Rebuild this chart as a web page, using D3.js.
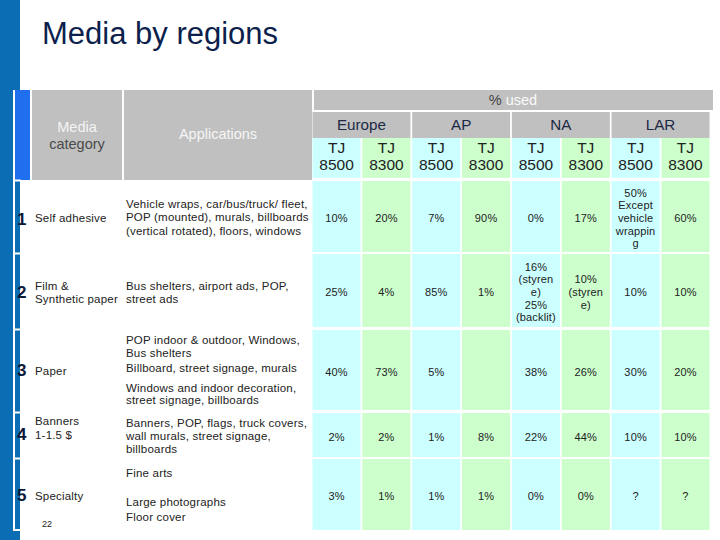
<!DOCTYPE html>
<html><head><meta charset="utf-8">
<script src="https://cdn.jsdelivr.net/npm/d3@7"></script>
<style>body{margin:0;background:#fff;}svg{display:block;font-family:"Liberation Sans",Arial,sans-serif;}</style>
</head><body><svg id="c" width="720" height="540"></svg>
<script>
// ---------- DATA ----------
const title = "Media by regions";
const usedLabel = ["% ", "used"];
const headerCategory = ["Media", "category"];
const headerApplications = "Applications";
const regions = ["Europe", "AP", "NA", "LAR"];
const models = [["TJ", "8500"], ["TJ", "8300"]];
const rowNumbers = ["1", "2", "3", "4", "5"];
const categories = [["Self adhesive"], ["Film &", "Synthetic paper"], ["Paper"], ["Banners", "1-1.5 $"], ["Specialty"]];
const applications = [
  ["Vehicle wraps, car/bus/truck/ fleet,", "POP (mounted), murals, billboards", "(vertical rotated), floors, windows"],
  ["Bus shelters, airport ads, POP,", "street ads"],
  ["POP indoor & outdoor, Windows,", "Bus shelters", "Billboard, street signage, murals", "Windows and indoor decoration,", "street signage, billboards"],
  ["Banners, POP, flags, truck covers,", "wall murals, street signage,", "billboards"],
  ["Fine arts", "Large photographs", "Floor cover"]
];
const europe = [["10%", "20%"], ["25%", "4%"], ["40%", "73%"], ["2%", "2%"], ["3%", "1%"]];
const ap = [["7%", "90%"], ["85%", "1%"], ["5%", ""], ["1%", "8%"], ["1%", "1%"]];
const na = [["0%", "17%"], [["16%", "(styren", "e)", "25%", "(backlit)"], ["10%", "(styren", "e)"]], ["38%", "26%"], ["22%", "44%"], ["0%", "0%"]];
const lar = [[["50%", "Except", "vehicle", "wrappin", "g"], "60%"], ["10%", "10%"], ["30%", "20%"], ["10%", "10%"], ["?", "?"]];
const pageNumber = "22";

// ---------- LAYOUT ----------
const svg = d3.select("#c");
const C = {gray: "#c0c0c0", cyan: "#ccffff", green: "#ccffcc", blue: "#0b6db4", bright: "#1f6fee", navy: "#0d1f4d", text: "#222"};
const regionData = [europe, ap, na, lar];

const x = d3.scaleBand().domain(d3.range(8)).range([312.5, 709.5]).paddingInner(0.035);
const rowTop = d3.scaleOrdinal().domain(d3.range(5)).range([181, 254, 330, 413, 459]);
const rowBot = d3.scaleOrdinal().domain(d3.range(5)).range([252, 327, 410, 457, 530]);
const rowMid = i => (rowTop(i) + rowBot(i)) / 2;
const appBaselines = [[207.5, 221, 234.5], [290, 303], [344, 356.5, 371.5, 391.5, 404], [426.5, 440, 452.5], [477, 506, 520.5]];
const catBaselines = [[222], [290, 303], [375], [425, 439], [500]];
const numBaselines = [225, 298, 376, 440, 501];

// left decorative strip
svg.append("rect").attr("x", 0).attr("y", 0).attr("width", 20).attr("height", 540).attr("fill", C.blue);
svg.append("path").attr("d", "M20,91 H14 V530 H20").attr("fill", "none").attr("stroke", "#fff").attr("stroke-width", 2);
svg.append("rect").attr("x", 15).attr("y", 90).attr("width", 15).attr("height", 90).attr("fill", C.bright);
svg.append("rect").attr("x", 20).attr("y", 181).attr("width", 2).attr("height", 349).attr("fill", "#fff");
rowNumbers.forEach((_, i) => {
  svg.append("rect").attr("x", 15).attr("y", rowTop(i) - 1.5).attr("width", 6).attr("height", 2).attr("fill", "#fff");
});

// title
svg.append("text").attr("x", 42).attr("y", 44).attr("font-size", 31).attr("fill", C.navy).text(title);

// header cells
svg.append("rect").attr("x", 32).attr("y", 90).attr("width", 90).attr("height", 90).attr("fill", C.gray);
svg.append("rect").attr("x", 124).attr("y", 90).attr("width", 188).attr("height", 90).attr("fill", C.gray);
svg.append("text").attr("x", 77).attr("y", 132).attr("text-anchor", "middle").attr("font-size", 14.5).attr("fill", "#f4f4f4").text(headerCategory[0]);
svg.append("text").attr("x", 77).attr("y", 149).attr("text-anchor", "middle").attr("font-size", 14.5).attr("fill", "#4a4a4a").text(headerCategory[1]);
svg.append("text").attr("x", 218).attr("y", 139).attr("text-anchor", "middle").attr("font-size", 14.5).attr("fill", "#f6f6f6").text(headerApplications);

svg.append("rect").attr("x", 314).attr("y", 90).attr("width", 399).attr("height", 20).attr("fill", C.gray);
const ut = svg.append("text").attr("x", 513).attr("y", 105).attr("text-anchor", "middle").attr("font-size", 14.5);
ut.append("tspan").attr("fill", "#444").text(usedLabel[0]);
ut.append("tspan").attr("fill", "#fafafa").text(usedLabel[1]);

regions.forEach((r, i) => {
  const x0 = x(2 * i), x1 = x(2 * i + 1) + x.bandwidth();
  svg.append("rect").attr("x", x0).attr("y", 112).attr("width", x1 - x0).attr("height", 26).attr("fill", C.gray);
  svg.append("text").attr("x", (x0 + x1) / 2).attr("y", 130).attr("text-anchor", "middle").attr("font-size", 15.2).attr("fill", "#1c2a44").text(r);
});

d3.range(8).forEach(j => {
  const fill = j % 2 === 0 ? C.cyan : C.green;
  const m = models[j % 2];
  svg.append("rect").attr("x", x(j)).attr("y", 138).attr("width", x.bandwidth()).attr("height", 40).attr("fill", fill);
  svg.append("text").attr("x", x(j) + x.bandwidth() / 2).attr("y", 153).attr("text-anchor", "middle").attr("font-size", 15.5).attr("fill", "#222").text(m[0]);
  svg.append("text").attr("x", x(j) + x.bandwidth() / 2).attr("y", 170).attr("text-anchor", "middle").attr("font-size", 15.5).attr("fill", "#222").text(m[1]);
});

// body rows
rowNumbers.forEach((n, i) => {
  svg.append("text").attr("x", 17).attr("y", numBaselines[i]).attr("font-size", 17).attr("font-weight", "bold").attr("fill", "#0c1838").text(n);
  categories[i].forEach((t, k) => {
    svg.append("text").attr("x", 35).attr("y", catBaselines[i][k]).attr("font-size", 11.5).attr("letter-spacing", 0.2).attr("fill", C.text).text(t);
  });
  applications[i].forEach((t, k) => {
    svg.append("text").attr("x", 126).attr("y", appBaselines[i][k]).attr("font-size", 11.5).attr("letter-spacing", 0.2).attr("fill", C.text).text(t);
  });
  d3.range(8).forEach(j => {
    const fill = j % 2 === 0 ? C.cyan : C.green;
    svg.append("rect").attr("x", x(j)).attr("y", rowTop(i)).attr("width", x.bandwidth()).attr("height", rowBot(i) - rowTop(i)).attr("fill", fill);
    const v = regionData[Math.floor(j / 2)][i][j % 2];
    const lines = Array.isArray(v) ? v : [v];
    const lh = 12.7;
    lines.forEach((t, k) => {
      svg.append("text").attr("x", x(j) + x.bandwidth() / 2)
        .attr("y", rowMid(i) + 5.5 + (k - (lines.length - 1) / 2) * lh)
        .attr("text-anchor", "middle").attr("font-size", 11).attr("letter-spacing", 0.15).attr("fill", C.text).text(t);
    });
  });
});

svg.append("text").attr("x", 42).attr("y", 527).attr("font-size", 9).attr("fill", C.text).text(pageNumber);
</script></body></html>
